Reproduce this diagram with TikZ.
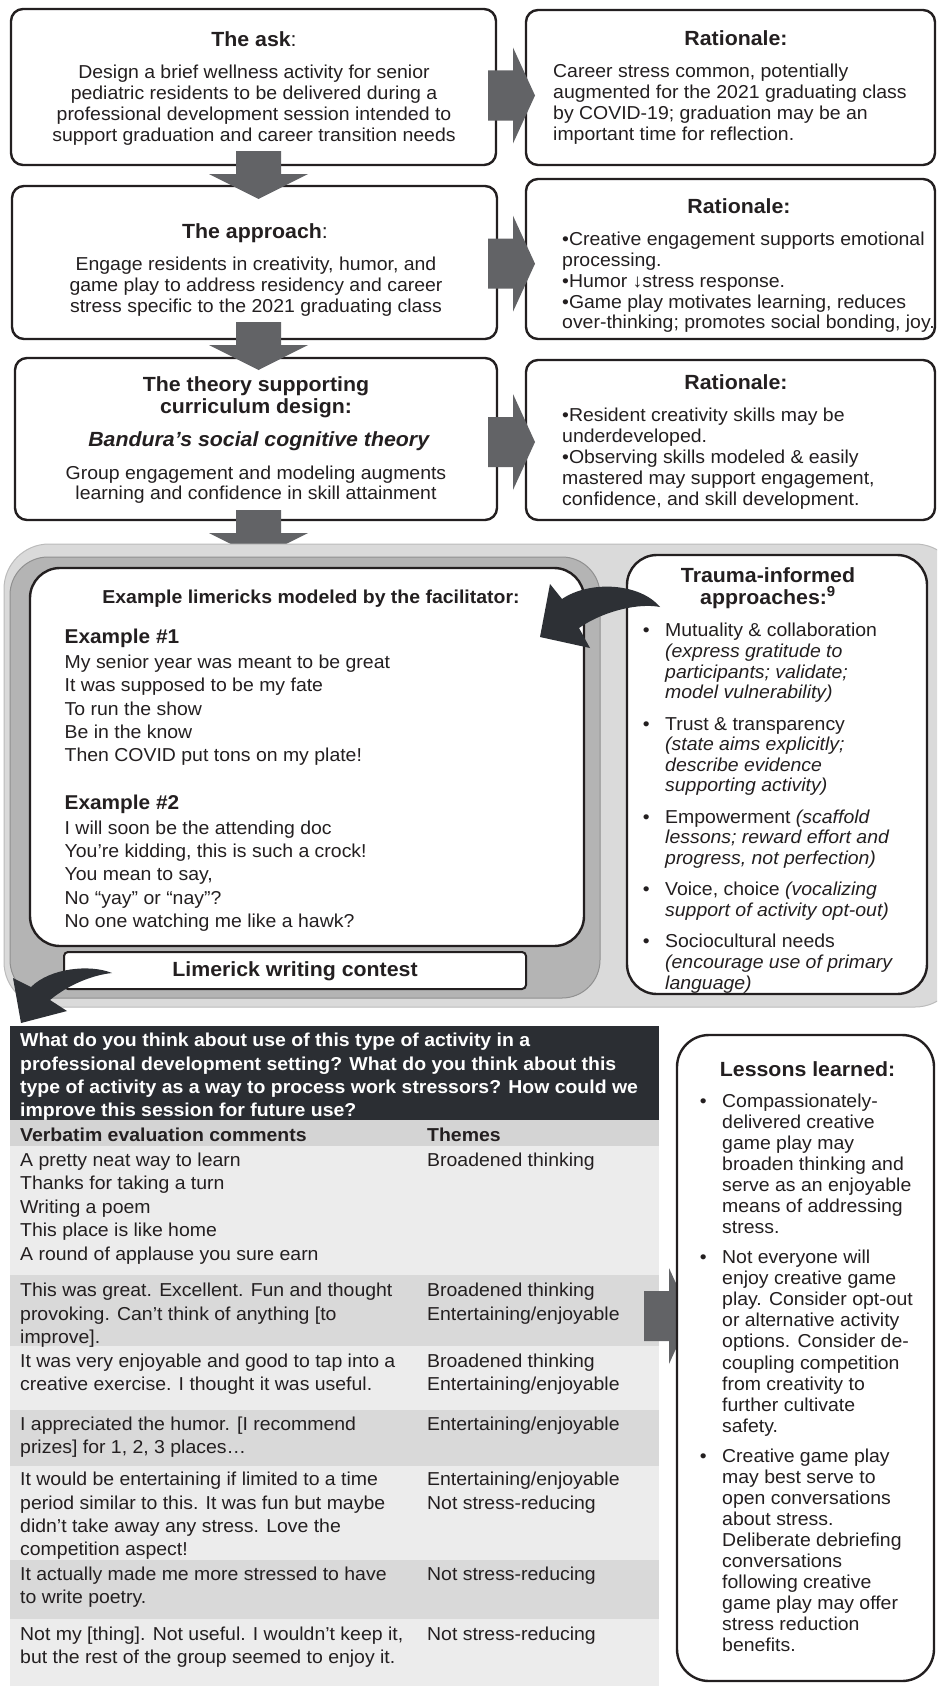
\documentclass[tikz,border=0pt]{standalone}
\usepackage{fontspec}
\setmainfont{Liberation Sans}[FakeStretch=1.04]
\definecolor{txt}{HTML}{231F20}
\definecolor{boxline}{HTML}{231F20}
\definecolor{arrowgrey}{HTML}{626366}
\definecolor{darkarrow}{HTML}{2D3035}
\definecolor{panelA}{HTML}{DADADA}
\definecolor{panelAb}{HTML}{BBBBBB}
\definecolor{panelB}{HTML}{B4B4B4}
\definecolor{panelBb}{HTML}{909090}
\definecolor{hdr}{HTML}{2B2E33}
\definecolor{hrow}{HTML}{D4D4D4}
\definecolor{rowlight}{HTML}{ECECEC}
\definecolor{rowdark}{HTML}{D9D9D9}
\newcommand\firstl{\rule{0pt}{16pt}}
\newcommand\bul{\llap{\textbullet\hspace{15.5pt}}}
\tikzset{
  rarr/.pic={\fill[arrowgrey] (0,-25) -- (25,-25) -- (25,-48) -- (47,0) -- (25,48) -- (25,25) -- (0,25) -- cycle;},
  darr/.pic={\fill[arrowgrey] (-22.5,0) -- (22.5,0) -- (22.5,23) -- (49.5,23) -- (0,48) -- (-49.5,23) -- (-22.5,23) -- cycle;}
}
\begin{document}
\begin{tikzpicture}[x=1pt,y=-1pt,
  box/.style={draw=boxline, line width=2.4pt, rounded corners=12pt, fill=white, inner sep=0pt},
  txtn/.style={inner sep=0pt, text=txt},
  ttl/.style={txtn, font=\fontsize{20.5}{21.4}\selectfont\bfseries},
  bod/.style={txtn, font=\fontsize{18.7}{#1}\selectfont},
  bbod/.style={txtn, font=\fontsize{18.7}{#1}\selectfont\bfseries}
]
\useasboundingbox (0,0) rectangle (937,1686);
\clip (0,0) rectangle (937,1686);

% ---------- top three rows ----------
\node[box, minimum width=485pt, minimum height=156pt] (ask) at (253.5,87) {};
\node[box, minimum width=409pt, minimum height=155pt] (rat1) at (730.5,87.5) {};
\node[box, minimum width=485pt, minimum height=153pt] (appr) at (254.5,262.5) {};
\node[box, minimum width=409pt, minimum height=160pt] (rat2) at (730.5,259) {};
\node[box, minimum width=482pt, minimum height=162pt] (theory) at (256,439) {};
\node[box, minimum width=409pt, minimum height=160pt] (rat3) at (730.5,440) {};

\pic at (488,95.5) {rarr};
\pic at (488,263.7) {rarr};
\pic at (488,442) {rarr};
\pic at (258.5,151) {darr};
\pic at (258.5,322) {darr};
\pic at (258.5,510) {darr};

\node[ttl, anchor=base] (t1t) at (254,46.5) {The ask\mdseries:};
\node[bod=20.8, anchor=north, align=center] (t1b) at (254,62.6) {\firstl Design a brief wellness activity for senior\\pediatric residents to be delivered during a\\professional development session intended to\\support graduation and career transition needs};
\node[ttl, anchor=base] (r1t) at (736,46) {Rationale:};
\node[bod=20.8, anchor=north west, align=left] (r1b) at (553,61.6) {\firstl Career stress common, potentially\\augmented for the 2021 graduating class\\by COVID-19; graduation may be an\\important time for reflection.};

\node[ttl, anchor=base] (t2t) at (255,238) {The approach\mdseries:};
\node[bod=20.7, anchor=north, align=center] (t2b) at (256,254.7) {\firstl Engage residents in creativity, humor, and\\game play to address residency and career\\stress specific to the 2021 graduating class};
\node[ttl, anchor=base] (r2t) at (739,213.8) {Rationale:};
\node[bod=20.8, anchor=north west, align=left] (r2b) at (562,229.5) {\firstl •Creative engagement supports emotional\\processing.\\•Humor ↓stress response.\\•Game play motivates learning, reduces\\over-thinking; promotes social bonding, joy.};

\node[ttl, anchor=north, align=center] (t3t) at (256,375.4) {\firstl The theory supporting\\curriculum design:};
\node[ttl, anchor=base, font=\fontsize{20.5}{21.4}\selectfont\bfseries\itshape] (t3i) at (258.7,446.6) {Bandura’s social cognitive theory};
\node[bod=20, anchor=north, align=center] (t3b) at (256,463.3) {\firstl Group engagement and modeling augments\\learning and confidence in skill attainment};
\node[ttl, anchor=base] (r3t) at (736,389.7) {Rationale:};
\node[bod=21, anchor=north west, align=left] (r3b) at (562,405.4) {\firstl •Resident creativity skills may be\\underdeveloped.\\•Observing skills modeled \& easily\\mastered may support engagement,\\confidence, and skill development.};

% ---------- middle panel ----------
\draw[fill=panelA, draw=panelAb, line width=1pt, rounded corners=45pt] (4,544) rectangle (960,1007);
\draw[fill=panelB, draw=panelBb, line width=1pt, rounded corners=38pt] (10,557) rectangle (600,998);
\node[box, rounded corners=30pt, minimum width=554pt, minimum height=378pt] (lim) at (307,757) {};
\node[box, rounded corners=4pt, line width=2pt, minimum width=462pt, minimum height=37pt] (contest) at (295,970.5) {};
\node[box, rounded corners=30pt, minimum width=300pt, minimum height=439pt] (trauma) at (777,774.5) {};

\node[bbod=20, anchor=base] (exh) at (311,603.3) {Example limericks modeled by the facilitator:};
\node[txtn, font=\fontsize{20}{21}\selectfont\bfseries, anchor=base west] (ex1t) at (64.5,643.3) {Example \#1};
\node[bod=23.35, anchor=north west, align=left] (ex1b) at (64.5,652.3) {\firstl My senior year was meant to be great\\It was supposed to be my fate\\To run the show\\Be in the know\\Then COVID put tons on my plate!};
\node[txtn, font=\fontsize{20}{21}\selectfont\bfseries, anchor=base west] (ex2t) at (64.5,809.3) {Example \#2};
\node[bod=23.35, anchor=north west, align=left] (ex2b) at (64.5,818) {\firstl I will soon be the attending doc\\You’re kidding, this is such a crock!\\You mean to say,\\No “yay” or “nay”?\\No one watching me like a hawk?};
\node[ttl, anchor=base] (cont) at (295,976.7) {Limerick writing contest};

\node[txtn, font=\fontsize{20.5}{21.6}\selectfont\bfseries, anchor=north, align=center] (trt) at (768,566.7) {\firstl Trauma-informed\\approaches:\textsuperscript{9}};
\node[bod=20.6, anchor=north west, align=left] (trb) at (665,620.7) {\firstl\bul Mutuality \& collaboration\\\textit{(express gratitude to}\\\textit{participants; validate;}\\\textit{model vulnerability)}\\[10.8pt]\bul Trust \& transparency\\\textit{(state aims explicitly;}\\\textit{describe evidence}\\\textit{supporting activity)}\\[10.8pt]\bul Empowerment \textit{(scaffold}\\\textit{lessons; reward effort and}\\\textit{progress, not perfection)}\\[10.8pt]\bul Voice, choice \textit{(vocalizing}\\\textit{support of activity opt-out)}\\[10.8pt]\bul Sociocultural needs\\\textit{(encourage use of primary}\\\textit{language)}};

\fill[darkarrow] (660,607) .. controls (640,583) and (590,580) .. (562,599) -- (550,584) -- (540,637) -- (590,648) -- (579,628) .. controls (605,610) and (640,603) .. (660,607) -- cycle;
\fill[darkarrow] (112,973) .. controls (90,964) and (50,968) .. (31,987) -- (13,978) -- (21,1023) -- (67,1011) -- (50,1000) .. controls (68,985) and (92,975) .. (112,973) -- cycle;

% ---------- table ----------
\fill[hdr] (10,1026) rectangle (659,1120);
\fill[hrow] (10,1120) rectangle (659,1146);
\fill[rowlight] (10,1146) rectangle (659,1275);
\fill[rowdark] (10,1275) rectangle (659,1346);
\fill[rowlight] (10,1346) rectangle (659,1410);
\fill[rowdark] (10,1410) rectangle (659,1466);
\fill[rowlight] (10,1466) rectangle (659,1560);
\fill[rowdark] (10,1560) rectangle (659,1619);
\fill[rowlight] (10,1619) rectangle (659,1686);

\node[bbod=23.3, text=white, anchor=north west, align=left] (q) at (20,1030.6) {\firstl What do you think about use of this type of activity in a\\professional development setting? What do you think about this\\type of activity as a way to process work stressors? How could we\\improve this session for future use?};
\node[bbod=20, anchor=base west] (hv) at (20,1141.5) {Verbatim evaluation comments};
\node[bbod=20, anchor=base west] (ht) at (427,1141.5) {Themes};

\node[bod=23.5, anchor=north west, align=left] (c1) at (20,1150) {\firstl A pretty neat way to learn\\Thanks for taking a turn\\Writing a poem\\This place is like home\\A round of applause you sure earn};
\node[bod=23.5, anchor=north west, align=left] (th1) at (427,1150) {\firstl Broadened thinking};
\node[bod=23.3, anchor=north west, align=left] (c2) at (20,1280.6) {\firstl This was great. Excellent. Fun and thought\\provoking. Can’t think of anything [to\\improve].};
\node[bod=23.3, anchor=north west, align=left] (th2) at (427,1280.6) {\firstl Broadened thinking\\Entertaining/enjoyable};
\node[bod=23.3, anchor=north west, align=left] (c3) at (20,1350.9) {\firstl It was very enjoyable and good to tap into a\\creative exercise. I thought it was useful.};
\node[bod=23.3, anchor=north west, align=left] (th3) at (427,1350.9) {\firstl Broadened thinking\\Entertaining/enjoyable};
\node[bod=23.3, anchor=north west, align=left] (c4) at (20,1414.3) {\firstl I appreciated the humor. [I recommend\\prizes] for 1, 2, 3 places…};
\node[bod=23.3, anchor=north west, align=left] (th4) at (427,1414.3) {\firstl Entertaining/enjoyable};
\node[bod=23.4, anchor=north west, align=left] (c5) at (20,1469.4) {\firstl It would be entertaining if limited to a time\\period similar to this. It was fun but maybe\\didn’t take away any stress. Love the\\competition aspect!};
\node[bod=23.4, anchor=north west, align=left] (th5) at (427,1469.4) {\firstl Entertaining/enjoyable\\Not stress-reducing};
\node[bod=23.3, anchor=north west, align=left] (c6) at (20,1563.8) {\firstl It actually made me more stressed to have\\to write poetry.};
\node[bod=23.3, anchor=north west, align=left] (th6) at (427,1563.8) {\firstl Not stress-reducing};
\node[bod=23.3, anchor=north west, align=left] (c7) at (20,1624.2) {\firstl Not my [thing]. Not useful. I wouldn’t keep it,\\but the rest of the group seemed to enjoy it.};
\node[bod=23.3, anchor=north west, align=left] (th7) at (427,1624.2) {\firstl Not stress-reducing};

\pic at (644,1316) {rarr};

% ---------- lessons ----------
\node[box, rounded corners=32pt, minimum width=257pt, minimum height=646pt] (lessons) at (805.5,1358) {};
\node[ttl, anchor=base west] (lt) at (719.7,1076.8) {Lessons learned:};
\node[bod=21.1, anchor=north west, align=left] (lb) at (722,1091) {\firstl\bul Compassionately-\\delivered creative\\game play may\\broaden thinking and\\serve as an enjoyable\\means of addressing\\stress.\\[8.6pt]\bul Not everyone will\\enjoy creative game\\play. Consider opt-out\\or alternative activity\\options. Consider de-\\coupling competition\\from creativity to\\further cultivate\\safety.\\[8.6pt]\bul Creative game play\\may best serve to\\open conversations\\about stress.\\Deliberate debriefing\\conversations\\following creative\\game play may offer\\stress reduction\\benefits.};
\end{tikzpicture}
\end{document}
